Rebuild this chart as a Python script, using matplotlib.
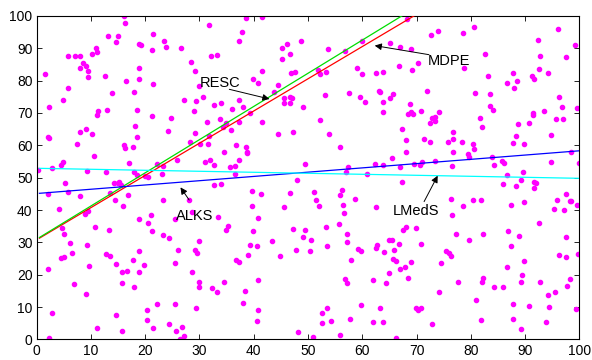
import matplotlib
matplotlib.use("Agg")
import matplotlib.pyplot as plt
import numpy as np

plt.rcParams["font.family"] = ["Liberation Sans", "DejaVu Sans"]

# scattered data points (x, y)
pts_x = [
    0.2, 1.6, 2.3, 2.0, 2.3, 2.9, 4.5, 4.9, 4.8, 5.7, 5.7, 7.1, 7.9, 7.4, 8.0, 8.0, 8.5, 9.0,
    9.0, 9.2, 9.5, 9.5, 10.2, 10.2, 10.6, 10.9, 11.1, 11.1, 11.3, 12.5, 12.7, 13.0, 13.1, 13.8,
    14.6, 15.0, 16.0, 16.2, 16.0, 16.2, 16.4, 17.1, 17.8, 18.0, 18.2, 18.4, 18.5, 17.9, 18.4,
    18.9, 19.2, 18.9, 18.9, 20.0, 20.6, 21.3, 21.3, 21.5, 21.5, 22.2, 23.1, 23.3, 23.5, 23.8,
    24.2, 24.7, 25.9, 26.6, 27.2, 28.4, 28.9, 29.1, 29.1, 29.4, 29.9, 28.3,
    31.8, 38.5, 41.5, 37.8, 37.2, 32.1, 33.2, 41.5, 39.8, 40.7, 30.7, 32.6, 33.9, 36.0, 37.3,
    38.0, 39.4, 31.4, 33.7, 34.4, 34.9, 35.8, 37.2, 41.5, 31.8, 30.1, 31.6, 34.6, 36.7, 38.5,
    38.7, 38.8, 37.2, 31.0, 32.6, 32.0, 35.6, 36.6, 43.8, 44.5, 45.3, 46.2, 46.6, 45.3, 46.9,
    47.6, 48.7, 45.5, 46.7, 47.1, 45.5, 46.7, 44.4, 47.3, 49.0, 49.4, 51.8, 52.2, 53.1, 53.4,
    53.6, 52.2, 53.8, 55.9, 56.8, 57.5, 59.0, 59.6, 60.0, 60.0, 60.5, 62.5, 63.9, 63.0, 63.3,
    63.9, 63.8, 57.4, 62.4, 63.9,
    68.3, 72.7, 73.9, 78.6, 80.6, 96.0, 92.4, 99.2, 67.0, 69.0, 65.1, 66.7, 69.2, 70.2, 82.7,
    78.8, 83.1, 92.8, 97.5, 92.6, 94.2, 87.8, 88.5, 86.7, 87.9, 91.3, 91.7, 72.0, 80.8, 83.6,
    65.1, 65.7, 96.3, 96.8, 99.5, 83.6, 84.1, 93.5, 91.4, 91.4, 68.8, 68.5, 68.9, 69.3, 70.9,
    74.1, 72.8, 73.2, 73.5, 73.5, 72.4, 81.7, 82.1, 88.7, 90.8, 95.8, 97.0, 67.4, 76.7, 76.7,
    88.3, 94.7, 71.4, 72.5, 68.0, 75.8, 78.3, 80.4, 80.6, 87.7, 89.9, 76.7, 79.4, 79.7, 83.9,
    68.0, 65.4, 69.5, 71.1, 70.6, 73.5, 76.6, 85.8, 86.1, 84.3, 94.7, 98.5, 99.9, 66.9,
    2.1, 5.3, 5.8, 8.0, 4.2, 4.7, 5.0, 6.1, 6.5, 4.4, 5.0, 2.0, 6.8, 2.9, 2.3, 9.0, 9.2, 9.7,
    8.9, 9.5, 10.8, 11.2, 12.7, 13.4, 13.6, 13.6, 14.4, 14.3, 14.9, 15.2, 15.5, 14.6, 14.6,
    15.7, 15.7, 15.9, 15.8, 16.8, 16.6, 17.8, 18.0, 18.9, 18.9, 18.9, 19.7, 20.3, 20.3, 20.5,
    21.0, 21.3, 21.5, 22.2, 23.3, 23.3, 24.4, 24.4, 25.4, 25.4, 25.4, 25.7, 26.1, 26.4, 26.8,
    27.1, 28.1, 28.7, 29.2, 29.5, 29.9, 28.6, 29.9, 30.0, 29.4,
    36.5, 32.6, 34.0, 39.6, 41.3, 46.6, 48.0, 51.2, 51.5, 52.0, 55.9, 56.3, 57.0, 60.9, 58.6,
    56.5, 56.6, 55.7, 57.1, 53.3, 62.5, 45.5, 39.7, 40.7, 35.3, 34.9, 39.9, 33.4, 47.3, 49.4,
    49.0, 50.6, 43.4, 39.4, 40.6, 47.8, 50.3, 53.5, 57.2, 59.3, 59.8, 58.0, 44.9, 39.0, 36.8,
    37.3, 62.5, 62.8, 64.0, 65.0, 32.3, 33.2, 34.6, 38.3, 40.8, 38.1, 40.8, 40.6, 48.2, 51.0,
    52.6, 52.6, 53.5, 54.3, 55.9, 56.8, 57.1, 57.7, 59.8, 61.9, 61.9, 63.3, 63.9, 64.4, 65.0,
    67.4, 86.7, 85.9, 88.3, 89.3, 89.6, 91.7, 92.0, 91.7, 87.5, 89.8, 97.5, 95.9, 98.3, 98.5,
    99.5, 95.3, 97.1, 76.4, 78.5, 80.5, 81.8, 76.6, 92.6, 69.9, 68.0, 67.6, 77.3, 82.2, 86.8,
    88.9, 97.6, 65.4, 66.7, 65.9, 70.9, 79.7, 87.4, 75.5, 75.9, 76.4, 74.5, 65.7, 66.3, 67.9,
    66.9, 69.0, 68.5, 77.7, 82.0, 82.2, 86.6, 89.4, 89.2, 89.9, 84.3, 85.9, 96.3, 97.6, 99.8,
    98.3, 97.7, 92.8, 94.2, 95.6, 74.1, 81.0, 87.7, 69.9, 70.3, 70.8, 90.7, 94.5, 99.4, 72.8,
    81.8, 87.8, 93.9, 89.3, 66.3,
]
pts_y = [
    52.5, 82.0, 71.7, 62.5, 62.2, 53.1, 54.0, 54.7, 74.1, 77.8, 87.7, 87.7, 87.7, 60.5, 83.9,
    64.0, 85.5, 84.6, 65.1, 52.2, 83.0, 81.0, 63.4, 88.3, 56.7, 90.1, 88.9, 69.5, 70.7, 81.3,
    51.9, 71.0, 93.9, 76.2, 91.9, 93.9, 99.9, 97.7, 60.0, 59.3, 79.8, 54.5, 59.5, 76.6, 66.0,
    70.9, 62.6, 51.9, 50.8, 91.3, 90.9, 83.9, 80.6, 50.6, 50.2, 69.2, 89.5, 94.4, 78.9, 54.2,
    51.1, 53.6, 92.2, 90.4, 64.3, 68.4, 55.4, 90.2, 74.1, 85.8, 70.5, 83.1, 63.8, 73.7, 78.4,
    61.1,
    97.2, 99.3, 99.5, 95.1, 92.2, 87.5, 87.8, 82.9, 80.5, 79.3, 74.9, 72.5, 73.0, 71.2, 74.0,
    71.9, 70.0, 67.2, 68.1, 65.7, 67.0, 64.6, 67.3, 67.3, 62.8, 60.3, 60.3, 57.8, 60.1, 59.6,
    58.0, 57.5, 55.4, 54.8, 53.8, 55.4, 53.2, 53.7, 76.4, 78.7, 90.1, 91.3, 88.2, 86.6, 82.2,
    82.5, 92.2, 74.7, 75.0, 74.7, 73.2, 73.0, 63.4, 64.0, 71.9, 54.2, 83.3, 81.9, 75.5, 82.7,
    89.8, 67.8, 63.4, 59.5, 89.2, 76.2, 83.9, 74.9, 92.2, 81.9, 73.5, 82.4, 82.6, 76.9, 76.6,
    73.5, 70.3, 53.4, 54.2, 53.9,
    98.9, 94.0, 95.4, 94.6, 96.6, 95.8, 92.5, 91.0, 90.3, 89.6, 91.7, 84.6, 83.4, 85.5, 88.1,
    83.9, 81.4, 87.7, 87.4, 83.6, 82.3, 82.3, 79.9, 79.3, 77.8, 81.4, 80.5, 76.9, 76.3, 75.8,
    74.7, 75.7, 74.9, 71.9, 71.6, 72.2, 70.8, 70.5, 69.9, 69.4, 72.7, 69.7, 70.3, 69.7, 70.5,
    70.2, 68.3, 68.3, 68.6, 67.6, 67.0, 68.4, 65.7, 66.6, 66.9, 68.2, 68.2, 64.9, 64.0, 61.9,
    62.9, 63.2, 61.8, 61.1, 61.7, 61.1, 61.1, 60.5, 59.0, 60.7, 60.5, 57.8, 57.2, 56.3, 56.3,
    57.8, 56.0, 54.3, 54.8, 53.8, 55.1, 53.5, 55.3, 54.5, 54.0, 54.9, 57.8, 54.6, 53.3,
    44.8, 48.4, 45.7, 44.3, 40.2, 34.3, 32.5, 29.9, 26.7, 25.2, 25.4, 21.9, 17.2, 8.1, 0.4,
    13.9, 29.3, 22.8, 38.8, 39.7, 34.8, 3.5, 26.3, 33.9, 25.8, 45.3, 43.0, 48.4, 48.4, 48.7,
    47.7, 23.4, 7.6, 20.7, 17.5, 41.1, 2.6, 44.6, 21.3, 24.6, 16.1, 20.7, 27.2, 37.3, 23.1,
    9.0, 6.0, 36.1, 38.5, 33.6, 3.7, 11.0, 43.2, 32.3, 31.3, 4.7, 37.2, 23.6, 11.1, 2.7, 27.6,
    0.0, 4.0, 1.2, 43.0, 39.4, 27.6, 26.6, 30.5, 20.7, 17.9, 16.3, 9.6,
    51.1, 47.7, 48.1, 46.0, 45.1, 45.3, 49.3, 45.7, 43.1, 41.3, 44.7, 46.3, 51.8, 51.1, 43.4,
    41.7, 39.0, 35.6, 32.5, 34.8, 40.8, 41.0, 41.3, 37.6, 35.2, 33.9, 33.4, 37.9, 34.0, 33.9,
    31.7, 30.7, 30.5, 29.3, 29.0, 27.8, 27.3, 28.8, 30.1, 27.9, 27.3, 24.7, 25.8, 26.1, 24.5,
    23.9, 28.4, 29.1, 27.1, 30.7, 15.8, 14.7, 17.9, 14.9, 18.3, 11.4, 9.0, 5.8, 2.2, 0.8, 8.1,
    5.1, 9.6, 5.8, 1.5, 18.8, 17.3, 6.4, 10.5, 18.4, 5.5, 9.8, 5.5, 17.5, 20.4,
    48.7, 50.8, 47.9, 47.3, 49.3, 51.8, 48.7, 48.4, 46.7, 41.7, 42.6, 44.8, 43.0, 42.8, 42.9,
    41.7, 40.3, 40.0, 43.4, 41.1, 43.0, 43.1, 38.5, 36.1, 34.3, 34.8, 33.7, 32.6, 32.6, 33.4,
    31.9, 31.7, 30.8, 29.4, 27.5, 29.5, 30.8, 28.8, 27.3, 26.6, 25.8, 23.7, 24.9, 24.4, 22.5,
    21.7, 24.0, 19.1, 17.7, 17.9, 18.9, 22.3, 19.9, 17.9, 24.3, 16.1, 16.1, 26.1, 25.4, 26.4,
    18.8, 16.4, 17.9, 13.7, 14.6, 14.7, 12.3, 11.1, 9.7, 9.1, 9.7, 10.2, 9.9, 9.4, 4.7,
    5.9, 6.4, 5.5, 3.1, 0.6,
]

# fitted lines y = a + b*x for each estimator
methods = ["MDPE", "RESC", "ALKS", "LMedS"]
line_colors = ["red", "#00dd00", "blue", "cyan"]
intercepts = [30.8, 31.0, 45.1, 52.9]
slopes = [0.995, 1.025, 0.132, -0.031]
line_x = [0.5, 100]

# annotation text positions and arrow targets (data coords)
label_xy = [(72.0, 86.0), (30.0, 79.3), (25.6, 38.2), (65.7, 39.8)]
arrow_tail = [(72.3, 88.0), (35.5, 77.3), (28.1, 43.1), (71.4, 42.6)]
arrow_head = [(62.3, 90.8), (42.9, 74.3), (26.5, 47.0), (73.9, 50.6)]

fig = plt.figure(figsize=(5.92, 3.6), dpi=100)
ax = fig.add_axes([0.062, 0.057, 0.9165, 0.899])

ax.plot(pts_x, pts_y, "o", color="#ff00ff", ms=3.0, mec="#ff00ff", zorder=2)

xs = np.array(line_x)
for name, c, a, b in zip(methods, line_colors, intercepts, slopes):
    ax.plot(xs, a + b * xs, color=c, lw=0.9, zorder=3)

for name, lxy, tail, head in zip(methods, label_xy, arrow_tail, arrow_head):
    ax.text(lxy[0], lxy[1], name, fontsize=10.5, ha="left", va="center", zorder=5)
    ax.annotate("", xy=head, xytext=tail,
                arrowprops=dict(arrowstyle="-|>", color="black", lw=0.7,
                                mutation_scale=10, shrinkA=0, shrinkB=0), zorder=5)

ax.set_xlim(0, 100)
ax.set_ylim(0, 100)
ax.set_xticks(range(0, 101, 10))
ax.set_yticks(range(0, 101, 10))
ax.tick_params(direction="in", top=True, right=True, length=3.5, width=0.6,
               labelsize=10, pad=3)
for s in ax.spines.values():
    s.set_linewidth(0.8)

fig.savefig("out.png", dpi=100)
